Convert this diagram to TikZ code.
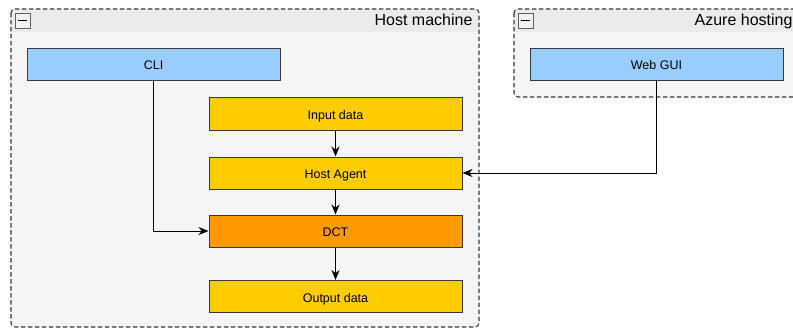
\documentclass[tikz,border=0pt]{standalone}
\usepackage{fontspec}
\setmainfont{Liberation Sans}
\usetikzlibrary{positioning,arrows.meta}
\definecolor{boxblue}{HTML}{99CCFF}
\definecolor{boxyellow}{HTML}{FFCC00}
\definecolor{boxorange}{HTML}{FF9900}
\definecolor{boxline}{HTML}{36393D}
\definecolor{headgrey}{HTML}{EBEBEB}
\definecolor{bodygrey}{HTML}{F5F5F5}
\tikzset{
  box/.style={draw=boxline, line width=1pt, minimum width=253pt, minimum height=32pt,
    inner sep=0pt, text height=11pt, text depth=0pt, font=\fontsize{12.5}{14}\selectfont},
  frame/.style={draw=boxline, line width=1.1pt, dash pattern=on 4.5pt off 2.5pt, rounded corners=4pt},
  toggle/.style={draw=boxline!80, fill=white!95!black, minimum size=15pt, inner sep=0pt},
  title/.style={anchor=base east, font=\fontsize{16}{18}\selectfont},
  link/.style={->, line width=.9pt}
}
\begin{document}
\begin{tikzpicture}[x=1pt, y=-1pt, >={Stealth[length=10pt,width=8pt]}]
\useasboundingbox (0,0) rectangle (793,329);
\clip (0,0) rectangle (793,329);
% host machine container
\fill[bodygrey, rounded corners=4pt] (11,9) rectangle (479,327);
\begin{scope}
\clip[rounded corners=4pt] (11,9) rectangle (479,327);
\fill[headgrey] (11,9) rectangle (479,32);
\end{scope}
\draw[frame] (11,9) rectangle (479,327);
\node[toggle] (hosttoggle) at (22.5,20.5) {};
\draw[line width=1.6pt] ([xshift=-4.5pt]hosttoggle.center) -- ([xshift=4.5pt]hosttoggle.center);
\node[title] (hosttitle) at (476,26) {Host machine};
% azure container
\fill[bodygrey, rounded corners=4pt] (514,9) rectangle (799,97);
\begin{scope}
\clip[rounded corners=4pt] (514,9) rectangle (799,97);
\fill[headgrey] (514,9) rectangle (799,32);
\end{scope}
\draw[frame] (514,9) rectangle (799,97);
\node[toggle] (azuretoggle) at (525.5,20.5) {};
\draw[line width=1.6pt] ([xshift=-4.5pt]azuretoggle.center) -- ([xshift=4.5pt]azuretoggle.center);
\node[title] (azuretitle) at (796,26) {Azure hosting};
% boxes
\node[box, fill=boxblue] (cli) at (153.5,64.5) {CLI};
\node[box, fill=boxblue] (webgui) at (656.5,64.5) {Web GUI};
\node[box, fill=boxyellow] (input) at (335.5,114) {Input data};
\node[box, fill=boxyellow] (agent) at (335.5,173) {Host Agent};
\node[box, fill=boxorange] (dct) at (335.5,231) {DCT};
\node[box, fill=boxyellow] (output) at (335.5,296.5) {Output data};
% connectors
\draw[link] (input) -- (agent);
\draw[link] (agent) -- (dct);
\draw[link] (dct) -- (output);
\draw[link] (cli.south) |- (dct.west);
\draw[link] (webgui.south) |- (agent.east);
\end{tikzpicture}
\end{document}
